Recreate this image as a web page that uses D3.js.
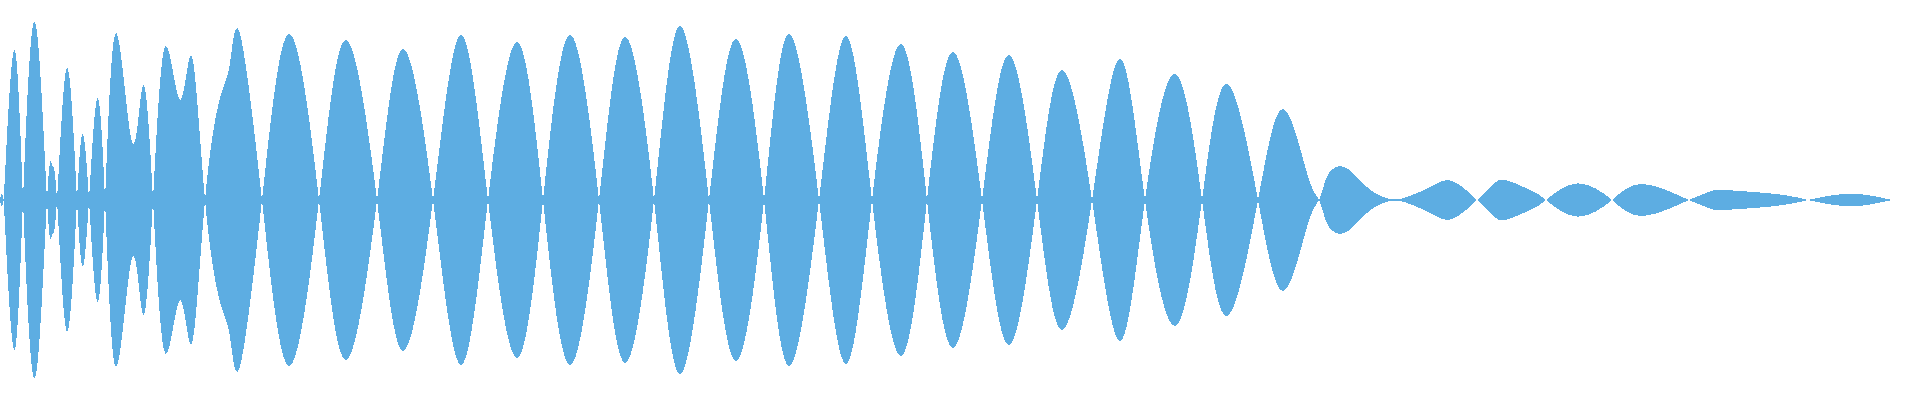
<!DOCTYPE html>
<html>
<head>
<meta charset="utf-8">
<script src="https://cdn.jsdelivr.net/npm/d3@7"></script>
<style>
  html, body { margin: 0; padding: 0; background: #fff; }
  svg { display: block; }
</style>
</head>
<body>
<div id="chart"></div>
<script>
const frames = [
  0, 1, 3, 5, 14, 23, 35, 47, 52, 57, 67, 77, 83, 89, 97, 105,
  116, 132, 143, 153, 165, 180, 192, 205, 220, 230, 240, 262,
  289, 319, 346, 377, 403, 433, 461, 488, 517, 543, 570, 599,
  625, 654, 680, 709, 736, 764, 789, 819, 846, 872, 901, 927,
  953, 982, 1009, 1037, 1062, 1092, 1120, 1145, 1175, 1202, 1227, 1258,
  1283, 1307, 1319, 1326, 1333, 1340, 1347, 1353, 1367, 1377, 1387, 1397, 1407, 1430,
  1452, 1477, 1493, 1505, 1530, 1546, 1577, 1612, 1643, 1689,
  1713, 1725, 1770, 1797, 1808, 1843, 1873, 1892
];
const amplitude = [
  0, 0.025, 0.01, 0.125, 0.75, 0, -0.89, 0, 0.175, 0, -0.66, 0, 0.33, 0, -0.505, 0,
  0.835, 0.29, 0.575, 0, -0.765, -0.5, -0.715, 0, 0.51, 0.685, 0.83, 0,
  -0.83, 0, 0.8, 0, -0.755, 0, 0.825, 0, -0.79, 0, 0.825, 0,
  -0.815, 0, 0.87, 0, -0.805, 0, 0.83, 0, -0.82, 0, 0.78, 0,
  -0.74, 0, 0.725, 0, -0.65, 0, 0.705, 0, -0.63, 0, 0.58, 0,
  -0.455, -0.135, 0, 0.105, 0.155, 0.17, 0.158, 0.135, 0.065, 0.03, 0.008, 0.004, 0.015, 0.065,
  0.095, 0, -0.075, -0.1, -0.05, 0, 0.083, 0, -0.08, 0,
  0.048, 0.05, 0.033, 0.013, 0, -0.03, -0.02, 0
];

const width = 1920, height = 400;
const waveColor = "#5dade2";

const samples = frames.map((f, i) => ({frame: f, value: amplitude[i]}));

const svg = d3.select("#chart")
  .append("svg")
  .attr("width", width)
  .attr("height", height);

const xScale = d3.scaleLinear()
  .domain([0, 1920])
  .range([0, width]);

const yScale = d3.scaleLinear()
  .domain([-1, 1])
  .range([height, 0]);

// mirrored area: top follows +v, bottom follows -v, crossings pinch to zero
const area = d3.area()
  .curve(d3.curveNatural)
  .x(d => xScale(d.frame))
  .y0(d => yScale(-d.value))
  .y1(d => yScale(d.value));

svg.append("path")
  .datum(samples)
  .attr("d", area)
  .attr("fill", waveColor)
  .attr("shape-rendering", "crispEdges");
</script>
</body>
</html>
